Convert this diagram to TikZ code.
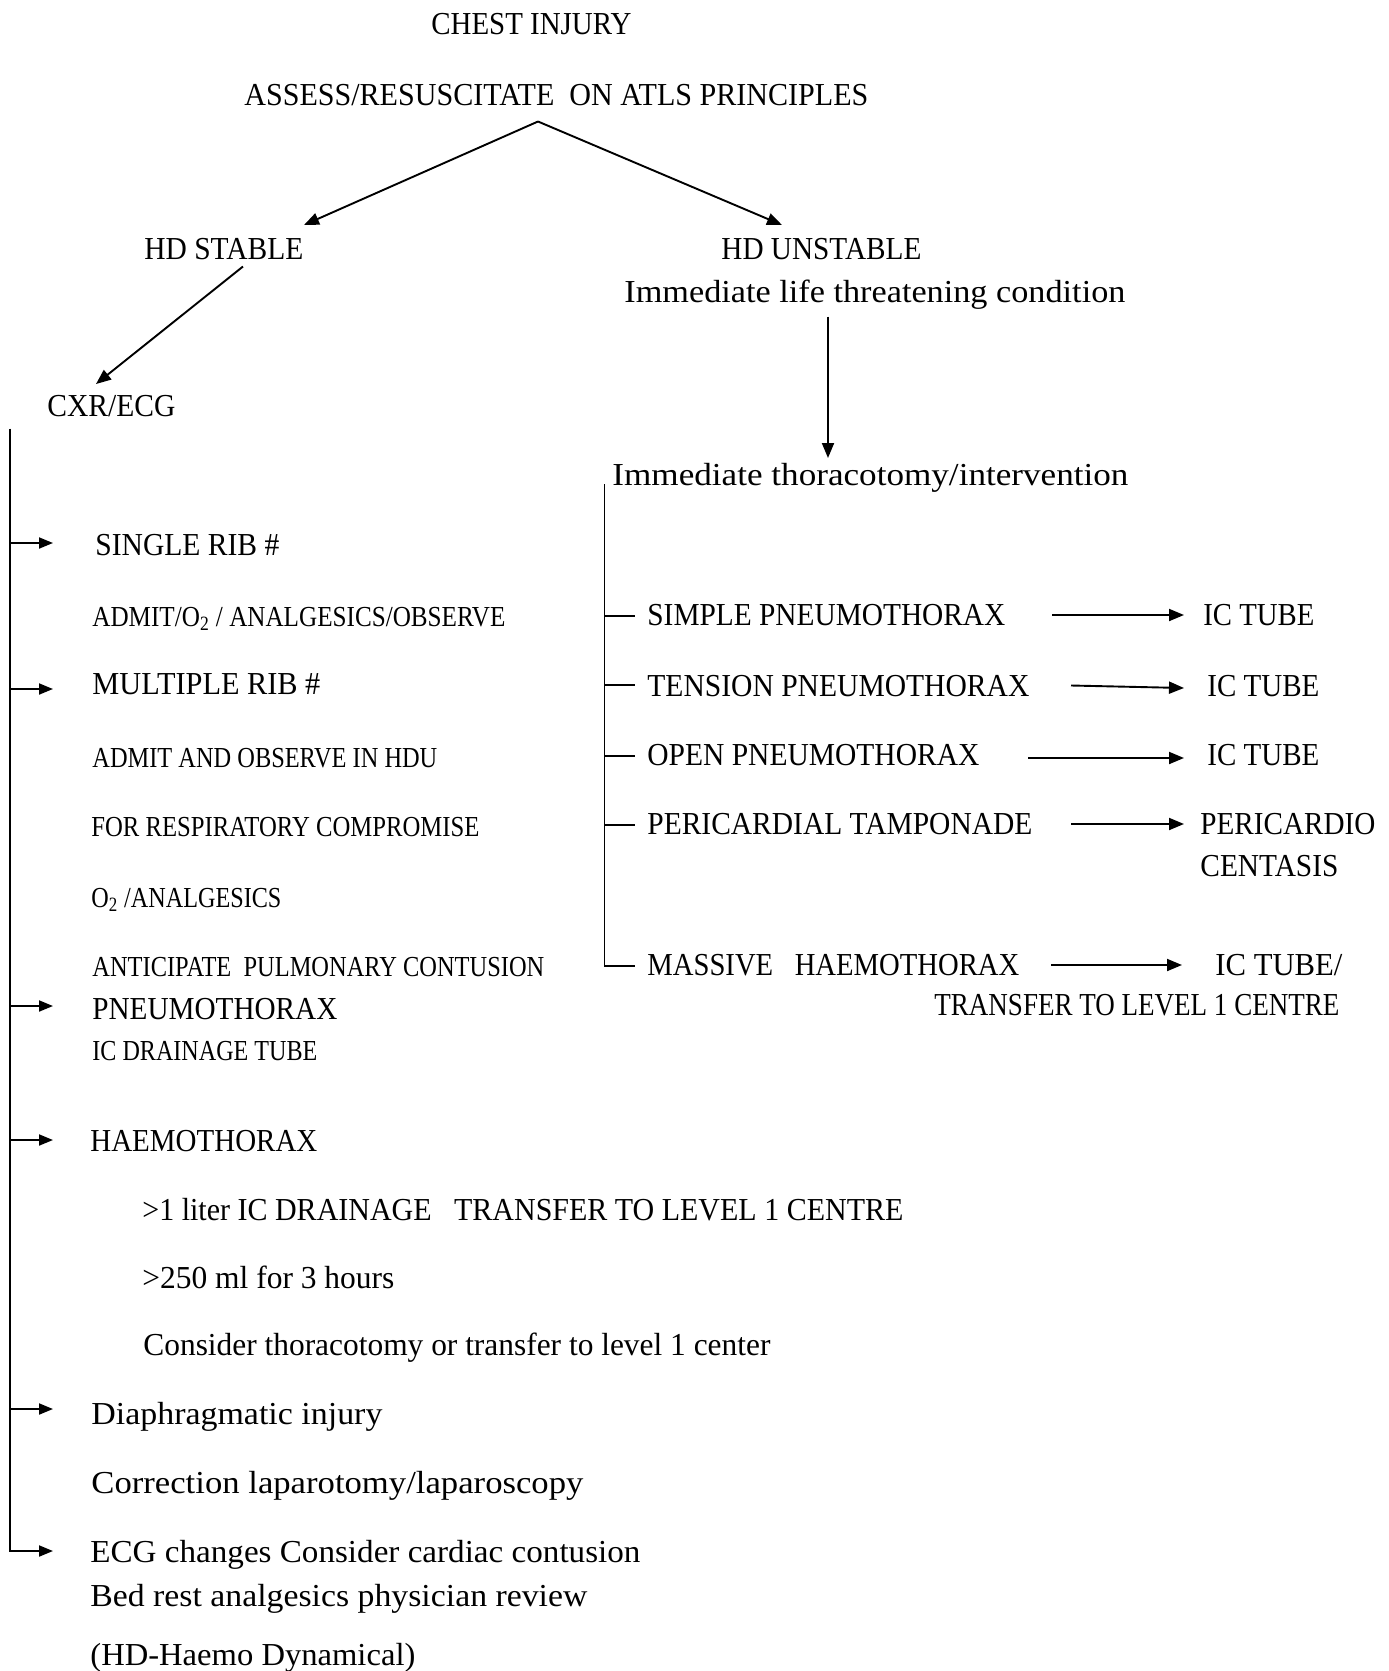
\documentclass[tikz,border=0pt]{standalone}
\usepackage{fontspec}
\setmainfont{Liberation Serif}
\usetikzlibrary{arrows.meta}
% one drawing unit = 0.5pt; \fw squeezes a text to a given width in those units
\newdimen\pxu \pxu=0.5pt
\newcommand\fw[2]{\resizebox{#1\pxu}{\height}{#2}}

\begin{document}
\begin{tikzpicture}[x=0.5pt,y=-0.5pt,
  txt/.style={anchor=base west,inner sep=0pt,font=\fontsize{16}{19}\selectfont},
  sml/.style={txt,font=\fontsize{14.5}{17}\selectfont},
  link/.style={line width=0.95pt},
  arr/.style={link,-{Triangle[length=7.5pt,width=6pt]}},
  sarr/.style={link,-{Triangle[length=7pt,width=5.5pt]}}]
\useasboundingbox[fill=white] (0,0) rectangle (1388,1671);

% ---- top of the chart
\node[txt] (chest)    at (431,34)    {\fw{200}{CHEST INJURY}};
\node[txt] (assess)   at (244,105.5) {\fw{624}{ASSESS/RESUSCITATE\ \ ON ATLS PRINCIPLES}};
\node[txt] (stable)   at (144,259.5) {\fw{159}{HD STABLE}};
\node[txt] (unstable) at (721,259.5) {\fw{200}{HD UNSTABLE}};
\node[txt] (life)     at (624,302.5) {\fw{501}{Immediate life threatening condition}};
\node[txt] (cxr)      at (47,416.5)  {\fw{128}{CXR/ECG}};
\node[txt] (thor)     at (612,485.5) {\fw{516}{Immediate thoracotomy/intervention}};

\coordinate (apex)  at (538,121.5);
\coordinate (stip)  at (304,225);
\coordinate (utip)  at (782,225);
\coordinate (sfoot) at (243,266.5);
\coordinate (ctip)  at (96,384);
\coordinate (lfoot) at (828,316.5);
\coordinate (ttip)  at (828,458);
\draw[arr] (apex) -- (stip);
\draw[arr] (apex) -- (utip);
\draw[arr] (sfoot) -- (ctip);
\draw[arr] (lfoot) -- (ttip);

% ---- stable branch (left column)
\node[txt] (single) at (95,555.5)  {\fw{184}{SINGLE RIB \#}};
\node[sml] (adm1)   at (92,626.5)  {\fw{413}{ADMIT/O\textsubscript{2} / ANALGESICS/OBSERVE}};
\node[txt] (multi)  at (92,694.5)  {\fw{228}{MULTIPLE RIB \#}};
\node[sml] (adm2)   at (92,767.5)  {\fw{345}{ADMIT AND OBSERVE IN HDU}};
\node[sml] (resp)   at (91,836.5)  {\fw{388}{FOR RESPIRATORY COMPROMISE}};
\node[sml] (otwo)   at (91,907.5)  {\fw{190}{O\textsubscript{2} /ANALGESICS}};
\node[sml] (antic)  at (92,976.5)  {\fw{452}{ANTICIPATE\ \ PULMONARY CONTUSION}};
\node[txt] (pneumo) at (92,1019.5) {\fw{245}{PNEUMOTHORAX}};
\node[sml] (icd)    at (92,1060.5) {\fw{225}{IC DRAINAGE TUBE}};
\node[txt] (haemo)  at (90,1151.5) {\fw{227}{HAEMOTHORAX}};
\node[txt] (liter)  at (142,1220.5){\fw{761}{>1 liter IC DRAINAGE\ \ \ TRANSFER TO LEVEL 1 CENTRE}};
\node[txt] (mlthr)  at (142,1288.5){\fw{252}{>250 ml\ for 3 hours}};
\node[txt] (consid) at (143,1355.5){\fw{627}{Consider thoracotomy or transfer to level 1 center}};
\node[txt] (diaph)  at (91,1424.5) {\fw{291}{Diaphragmatic injury}};
\node[txt] (corr)   at (91,1493.5) {\fw{492}{Correction laparotomy/laparoscopy}};
\node[txt] (ecg)    at (90,1562.5) {\fw{550}{ECG changes Consider cardiac contusion}};
\node[txt] (bed)    at (90,1606.5) {\fw{497}{Bed rest analgesics physician review}};
\node[txt] (hdnote) at (90,1665)   {\fw{325}{(HD-Haemo Dynamical)}};

\coordinate (lspine) at (9.6,428.5);
\coordinate (l1) at (53,543);
\coordinate (l2) at (53,689);
\coordinate (l3) at (53,1006);
\coordinate (l4) at (53,1140);
\coordinate (l5) at (53,1409);
\coordinate (l6) at (53,1551);
\draw[sarr] (lspine) |- (l6);
\foreach \t in {l1,l2,l3,l4,l5}
  \draw[sarr] (lspine |- \t) -- (\t);

% ---- unstable branch (right column)
\node[txt] (simple)  at (647,625.5) {\fw{358}{SIMPLE PNEUMOTHORAX}};
\node[txt] (tension) at (647,696)   {\fw{382}{TENSION PNEUMOTHORAX}};
\node[txt] (open)    at (647,765.5) {\fw{332}{OPEN PNEUMOTHORAX}};
\node[txt] (peri)    at (647,834.5) {\fw{385}{PERICARDIAL TAMPONADE}};
\node[txt] (massive) at (647,975.5) {\fw{372}{MASSIVE\ \ \ HAEMOTHORAX}};

\node[txt] (ica) at (1203,625.5) {\fw{111}{IC TUBE}};
\node[txt] (icb) at (1207,696)   {\fw{112}{IC TUBE}};
\node[txt] (icc) at (1207,765.5) {\fw{112}{IC TUBE}};
\node[txt] (pcd) at (1200,834.5) {\fw{175}{PERICARDIO}};
\node[txt] (cts) at (1200,876.5) {\fw{138}{CENTASIS}};
\node[txt] (icd2) at (1215,975.5) {\fw{127}{IC TUBE/}};
\node[txt] (trans) at (934,1015.5) {\fw{405}{TRANSFER TO LEVEL 1 CENTRE}};

\coordinate (rspine) at (604.5,484);
\coordinate (k1) at (635,616);
\coordinate (k2) at (635,685);
\coordinate (k3) at (635,756);
\coordinate (k4) at (635,825);
\coordinate (k5) at (635,966);
\draw[link] (rspine) |- (k5);
\foreach \k in {k1,k2,k3,k4}
  \draw[link] (rspine |- \k) -- (\k);

\coordinate (a1) at (1052,615);  \coordinate (b1) at (1184,615);
\coordinate (a2) at (1071,685.5);\coordinate (b2) at (1184,688);
\coordinate (a3) at (1028,758);  \coordinate (b3) at (1184,758);
\coordinate (a4) at (1071,824);  \coordinate (b4) at (1184,824);
\coordinate (a5) at (1051,965);  \coordinate (b5) at (1182,965);
\foreach \i in {1,...,5}
  \draw[arr] (a\i) -- (b\i);
\end{tikzpicture}
\end{document}
